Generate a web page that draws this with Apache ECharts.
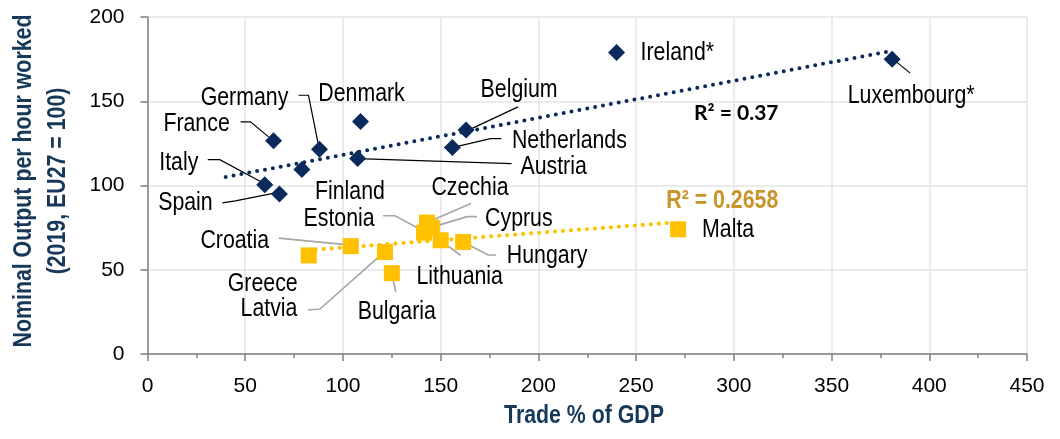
<!DOCTYPE html>
<html>
<head>
<meta charset="utf-8">
<script src="https://cdn.jsdelivr.net/npm/echarts@6/dist/echarts.min.js"></script>
<style>
  html, body { margin: 0; padding: 0; background: #fff; }
  #chart { width: 1060px; height: 439px; }
</style>
</head>
<body>
<div id="chart"></div>
<script>
// high output group (navy diamonds)
var blueNames  = ['Ireland*', 'Luxembourg*', 'Denmark', 'Belgium', 'Netherlands', 'Austria', 'Germany', 'France', 'Italy', 'Spain', 'Finland'];
var blueTrade  = [240, 381, 109, 163, 156, 107.5, 88, 64.5, 60, 67.5, 79];
var blueOutput = [179, 175, 138, 133, 122.5, 116, 121.5, 126.5, 100.5, 95, 109.5];

// lower output group (yellow squares)
var yellowNames  = ['Malta', 'Hungary', 'Lithuania', 'Cyprus', 'Czechia', 'Estonia', 'Bulgaria', 'Latvia', 'Croatia', 'Greece'];
var yellowTrade  = [271.5, 161.5, 150, 145.5, 143, 141.5, 125, 121.5, 104, 82.5];
var yellowOutput = [74, 66.5, 67.5, 75, 78, 72, 48, 60.5, 64, 58.5];

// trendlines (end points)
var blueTrendX = [40, 378];
var blueTrendY = [105, 179.3];
var yellowTrendX = [82, 268];
var yellowTrendY = [61.6, 77.9];
var r2Texts = ['R² = 0.37', 'R² = 0.2658'];

var xTicks = { min: 0, max: 450, step: 50 };
var yTicks = { min: 0, max: 200, step: 50 };
var xTitle = 'Trade % of GDP';
var yTitle = 'Nominal Output per hour worked\n(2019, EU27 = 100)';

var NAVY = '#0b2a5c';
var GOLD = '#ffc000';
var TITLE = '#16395a';
var SANS = '"Liberation Sans", Arial, sans-serif';
var SQUEEZE = 0.82; // fake Arial Narrow

// label placement: pixel offsets from the marker, leader line as offsets too
var labelPos = {
  'Ireland*':    { dx: 24, dy: 0, align: 'left' },
  'Luxembourg*': { dx: 19, dy: 37, line: [[1, 0], [18, 14]] },
  'Denmark':     { dx: 1, dy: -28 },
  'Belgium':     { dx: 53, dy: -40, line: [[5, -1], [52, -23]] },
  'Netherlands': { dx: 117, dy: -7, line: [[4, -1], [38, -9], [49, -9]] },
  'Austria':     { dx: 196, dy: 8, line: [[0, 0], [154, 5]] },
  'Germany':     { dx: -75, dy: -51, line: [[-1, -4], [-11, -54], [-21, -54]] },
  'France':      { dx: -77, dy: -17, line: [[-5, -4], [-23, -19], [-33, -19]] },
  'Italy':       { dx: -86, dy: -22, line: [[-2, -2], [-45, -25], [-57, -25]] },
  'Spain':       { dx: -94, dy: 9, line: [[-4, -1], [-44, 7], [-57, 9]] },
  'Finland':     { dx: 48, dy: 22 },
  'Malta':       { dx: 50, dy: 1 },
  'Hungary':     { dx: 84, dy: 14, line: [[0, 0], [25, 13], [33, 13]] },
  'Lithuania':   { dx: 19, dy: 37, line: [[2, 2], [20, 15]] },
  'Cyprus':      { dx: 87, dy: -9, line: [[-1, 0], [35, -11], [45, -11]] },
  'Czechia':     { dx: 43, dy: -35, line: [[0, 0], [44, -19]] },
  'Estonia':     { dx: -85, dy: -14, line: [[-1, -2], [-29, -17], [-41, -17]] },
  'Bulgaria':    { dx: 5, dy: 39, line: [[0, 0], [4, 19]] },
  'Latvia':      { dx: -116, dy: 57, line: [[-2, 1], [-65, 57], [-77, 58]] },
  'Croatia':     { dx: -116, dy: -5, line: [[0, -1], [-62, -7], [-72, -8]] },
  'Greece':      { dx: -46, dy: 28 }
};
// R² notes hang off the right end of each trendline
var r2Pos = [
  { dx: -150, dy: 61, font: 'bold 21px Lato, "Liberation Sans", sans-serif', color: '#000', sx: 1 },
  { dx: 51, dy: -22, font: 'bold 26px ' + SANS, color: '#c8952a', sx: SQUEEZE }
];

function pairs(xs, ys) {
  return xs.map(function (x, i) { return [x, ys[i]]; });
}

function annotate(names, lineColor, lineWidth) {
  return function (params, api) {
    var p = api.coord([api.value(0), api.value(1)]);
    var lay = labelPos[names[params.dataIndex]];
    var kids = [];
    if (lay.line) {
      kids.push({
        type: 'polyline',
        shape: { points: lay.line.map(function (o) { return [p[0] + o[0], p[1] + o[1]]; }) },
        style: { stroke: lineColor, lineWidth: lineWidth, fill: null }
      });
    }
    kids.push({
      type: 'text',
      x: p[0] + lay.dx,
      y: p[1] + lay.dy,
      scaleX: SQUEEZE,
      style: {
        text: names[params.dataIndex],
        font: '26px ' + SANS,
        fill: '#000',
        align: lay.align || 'center',
        verticalAlign: 'middle'
      }
    });
    return { type: 'group', children: kids };
  };
}

var chart = echarts.init(document.getElementById('chart'), null, { renderer: 'canvas' });

var trendEnds = [
  [blueTrendX[1], blueTrendY[1]],
  [yellowTrendX[1], yellowTrendY[1]]
];

var option = {
  animation: false,
  grid: { left: 147.5, right: 33, top: 17, bottom: 85, containLabel: false, outerBoundsMode: 'none' },
  graphic: [
    {
      type: 'text', x: 584, y: 416, scaleX: SQUEEZE,
      style: { text: xTitle, font: 'bold 26px ' + SANS, fill: TITLE, align: 'center', verticalAlign: 'middle' }
    },
    {
      type: 'text', x: 41, y: 181, rotation: Math.PI / 2, scaleX: SQUEEZE,
      style: { text: yTitle, font: 'bold 26px ' + SANS, lineHeight: 34, fill: TITLE, align: 'center', verticalAlign: 'middle' }
    }
  ],
  xAxis: {
    type: 'value',
    min: xTicks.min, max: xTicks.max, interval: xTicks.step,
    axisLine: { show: true, onZero: false, lineStyle: { color: '#7f7f7f', width: 1.5 } },
    axisTick: { show: true, length: 7, lineStyle: { color: '#7f7f7f', width: 1.5 } },
    minorTick: { show: true, splitNumber: 2, length: 4, lineStyle: { color: '#7f7f7f', width: 1.5 } },
    axisLabel: { color: '#000', fontFamily: SANS, fontSize: 21, margin: 22 },
    splitLine: { show: true, lineStyle: { color: '#e4e4e4', width: 1.5 } }
  },
  yAxis: {
    type: 'value',
    min: yTicks.min, max: yTicks.max, interval: yTicks.step,
    axisLine: { show: true, onZero: false, lineStyle: { color: '#7f7f7f', width: 1.5 } },
    axisTick: { show: true, length: 7, lineStyle: { color: '#7f7f7f', width: 1.5 } },
    axisLabel: { color: '#000', fontFamily: SANS, fontSize: 21, margin: 23 },
    splitLine: { show: true, lineStyle: { color: '#e4e4e4', width: 1.5 } }
  },
  series: [
    {
      type: 'custom', name: 'blueLabels', z: 1, clip: false, silent: true,
      renderItem: annotate(blueNames, '#000', 1.2),
      data: pairs(blueTrade, blueOutput)
    },
    {
      type: 'custom', name: 'yellowLabels', z: 1, clip: false, silent: true,
      renderItem: annotate(yellowNames, '#a6a6a6', 1.6),
      data: pairs(yellowTrade, yellowOutput)
    },
    {
      type: 'line', name: 'blueTrend', z: 2, symbol: 'none', silent: true,
      lineStyle: { color: NAVY, width: 4, type: [0, 8], cap: 'round' },
      data: pairs(blueTrendX, blueTrendY)
    },
    {
      type: 'line', name: 'yellowTrend', z: 2, symbol: 'none', silent: true,
      lineStyle: { color: GOLD, width: 4.2, type: [0, 8], cap: 'round' },
      data: pairs(yellowTrendX, yellowTrendY)
    },
    {
      type: 'custom', name: 'r2', z: 2, clip: false, silent: true,
      renderItem: function (params, api) {
        var p = api.coord([api.value(0), api.value(1)]);
        var lay = r2Pos[params.dataIndex];
        return {
          type: 'text', x: p[0] + lay.dx, y: p[1] + lay.dy, scaleX: lay.sx,
          style: { text: r2Texts[params.dataIndex], font: lay.font, fill: lay.color, align: 'center', verticalAlign: 'middle' }
        };
      },
      data: trendEnds
    },
    {
      type: 'scatter', name: 'High', z: 3,
      symbol: 'diamond', symbolSize: 17,
      itemStyle: { color: NAVY, opacity: 1 },
      data: pairs(blueTrade, blueOutput)
    },
    {
      type: 'scatter', name: 'Low', z: 3,
      symbol: 'rect', symbolSize: 16,
      itemStyle: { color: GOLD, opacity: 1 },
      data: pairs(yellowTrade, yellowOutput)
    }
  ]
};

chart.setOption(option);
window.addEventListener('resize', function () { chart.resize(); });
</script>
</body>
</html>
